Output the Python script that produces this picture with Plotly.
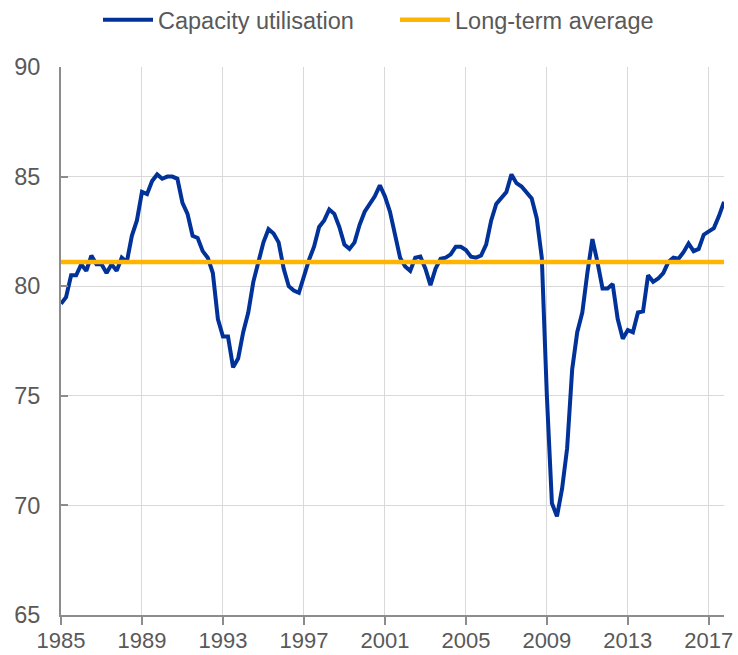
import plotly.graph_objects as go

# Quarterly data 1985Q1 - 2017Q4
start_year = 1985
capacity_utilisation = [
    79.2, 79.5, 80.5, 80.5,   # 1985
    81.0, 80.7, 81.4, 81.0,   # 1986
    81.0, 80.6, 81.0, 80.7,   # 1987
    81.3, 81.1, 82.3, 83.0,   # 1988
    84.3, 84.2, 84.8, 85.1,   # 1989
    84.9, 85.0, 85.0, 84.9,   # 1990
    83.8, 83.3, 82.3, 82.2,   # 1991
    81.6, 81.3, 80.6, 78.5,   # 1992
    77.7, 77.7, 76.3, 76.7,   # 1993
    77.9, 78.8, 80.2, 81.2,   # 1994
    82.0, 82.6, 82.4, 82.0,   # 1995
    80.8, 80.0, 79.8, 79.7,   # 1996
    80.5, 81.2, 81.8, 82.7,   # 1997
    83.0, 83.5, 83.3, 82.7,   # 1998
    81.9, 81.7, 82.0, 82.8,   # 1999
    83.4, 83.75, 84.1, 84.6,  # 2000
    84.1, 83.4, 82.4, 81.3,   # 2001
    80.9, 80.7, 81.3, 81.35,  # 2002
    80.8, 80.05, 80.8, 81.25, # 2003
    81.3, 81.45, 81.8, 81.8,  # 2004
    81.65, 81.35, 81.3, 81.4, # 2005
    81.9, 83.0, 83.75, 84.05, # 2006
    84.3, 85.1, 84.7, 84.55,  # 2007
    84.3, 84.0, 83.1, 81.3,   # 2008
    75.0, 70.1, 69.5, 70.75,  # 2009
    72.6, 76.2, 77.9, 78.8,   # 2010
    80.6, 82.15, 81.1, 79.9,  # 2011
    79.9, 80.1, 78.5, 77.6,   # 2012
    78.0, 77.9, 78.8, 78.85,  # 2013
    80.5, 80.2, 80.35, 80.6,  # 2014
    81.1, 81.3, 81.25, 81.55, # 2015
    81.95, 81.6, 81.7, 82.35, # 2016
    82.5, 82.65, 83.2, 83.85, # 2017
]
long_term_average = 81.1

tick_years = [1985, 1989, 1993, 1997, 2001, 2005, 2009, 2013, 2017]
tick_labels = [str(y) for y in tick_years]
y_ticks = [65, 70, 75, 80, 85, 90]

quarters = [start_year + i / 4 for i in range(len(capacity_utilisation))]

BLUE = "#003299"
YELLOW = "#FFB400"
TEXT = "#595959"
FONT = "Arial, Liberation Sans, sans-serif"
FS = 23.5

fig = go.Figure()
fig.add_trace(go.Scatter(
    x=quarters, y=capacity_utilisation, mode="lines",
    name="Capacity utilisation",
    line=dict(color=BLUE, width=4),
))
fig.add_trace(go.Scatter(
    x=[quarters[0], quarters[-1]], y=[long_term_average, long_term_average],
    mode="lines", name="Long-term average",
    line=dict(color=YELLOW, width=4.5),
))

fig.update_layout(
    width=738, height=655,
    margin=dict(l=61, r=14, t=67, b=40, autoexpand=False),
    paper_bgcolor="white", plot_bgcolor="white",
    font=dict(family=FONT, size=FS, color=TEXT),
    showlegend=True,
    legend=dict(
        orientation="h",
        xref="container", yref="container",
        x=98 / 738, xanchor="left",
        y=1 - 20 / 655, yanchor="middle",
        font=dict(family=FONT, size=FS, color=TEXT),
        itemwidth=50, entrywidth=232, tracegroupgap=0,
        bgcolor="rgba(0,0,0,0)",
    ),
)
fig.update_xaxes(
    range=[quarters[0], quarters[-1]],
    tickmode="array", tickvals=tick_years, ticktext=tick_labels,
    showgrid=True, gridcolor="#d9d9d9", gridwidth=1,
    showline=True, linecolor="#8c8c8c", linewidth=2,
    ticks="outside", ticklen=8, tickwidth=1.5, tickcolor="#8c8c8c",
    tickfont=dict(family=FONT, size=22, color=TEXT),
    ticklabelstandoff=-3,
    automargin=False, zeroline=False,
)
fig.update_yaxes(
    range=[65, 90],
    tickmode="array", tickvals=y_ticks,
    showgrid=True, gridcolor="#d9d9d9", gridwidth=1,
    showline=True, linecolor="#8c8c8c", linewidth=2,
    ticks="inside", ticklen=7, tickwidth=1.5, tickcolor="#8c8c8c",
    tickfont=dict(family=FONT, size=FS, color=TEXT),
    ticklabelstandoff=14,
    automargin=False, zeroline=False,
)

fig.write_html(
    "out.html",
    config={"displayModeBar": False},
    post_script="document.body.style.margin='0';",
)
